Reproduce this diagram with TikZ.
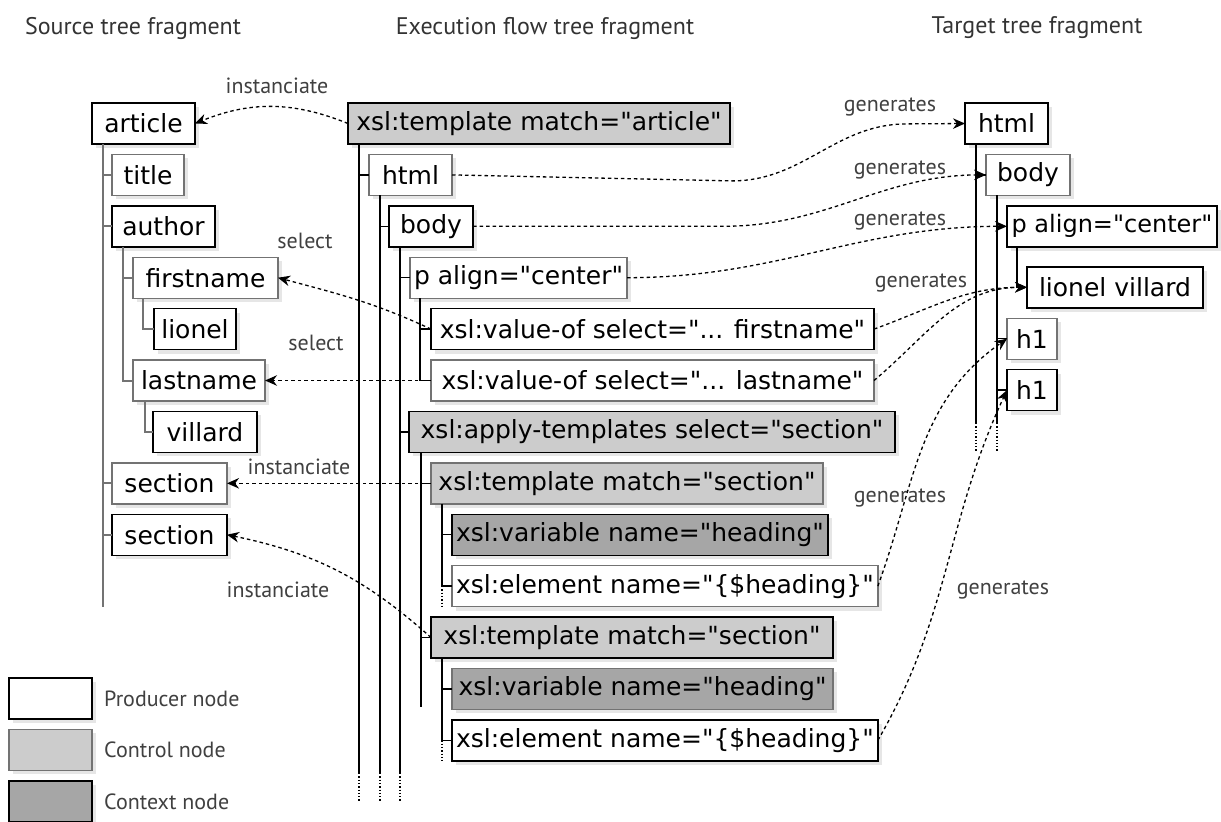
\documentclass[tikz,border=0pt]{standalone}
\usepackage{fontspec}
\setmainfont{DejaVu Sans}[Ligatures=TeXOff]
\newfontfamily\labelfont{PT Sans}
\usepackage{tikz}
\usetikzlibrary{arrows.meta}
\usetikzlibrary{positioning,shadows}
\tikzset{
    treenode/.style = {draw=black, line width=1.4pt, outer sep=0pt,
                 minimum height=41pt, inner xsep=4pt, font=\fontsize{25}{30}\selectfont,
                 drop shadow={opacity=0.2, shadow xshift=4pt, shadow yshift=-4pt}},
    prod/.style = {treenode, fill=white},
    ctrl/.style = {treenode, fill=gray!40},
    ctx/.style  = {treenode, fill=gray!70},
    soft/.style = {draw=black!55},
    branch/.style = {draw, line width=1.3pt},
    srcbranch/.style = {branch, draw=black!55, line width=2pt},
    link/.style = {->, line width=1.3pt, dash pattern=on 3.5pt off 3pt},
    lbl/.style = {font=\labelfont\fontsize{22}{26}\selectfont, text=black!75, inner sep=1pt},
    fragtitle/.style = {font=\labelfont\fontsize{24}{28}\selectfont, text=black!80},
}

\begin{document}
\begin{tikzpicture}[x=1pt,y=-1pt,>={Stealth[length=12pt,width=10.5pt]}]
\useasboundingbox (0,0) rectangle (1221,822);

% titles
\node (srctitle)  [fragtitle] at (133,28)  {Source tree fragment};
\node (flowtitle) [fragtitle] at (545,28)  {Execution flow tree fragment};
\node (tgttitle)  [fragtitle] at (1037,28) {Target tree fragment};

% source tree
\node (article)   [prod, minimum width=103pt, anchor=north west] at (92,103) {article};
\node (title)     [prod, soft, minimum width=72pt, below right=10.4pt and 20pt of article.south west] {title};
\node (author)    [prod, minimum width=103pt, below right=10.4pt and 0pt of title.south west] {author};
\node (firstname) [prod, soft, minimum width=145pt, below right=10.4pt and 21pt of author.south west] {firstname};
\node (lionel)    [prod, minimum width=82pt, below right=10.4pt and 21pt of firstname.south west] {lionel};
\node (lastname)  [prod, soft, minimum width=132pt, below right=10.4pt and -21pt of lionel.south west] {lastname};
\node (villard)   [prod, minimum width=104pt, below right=10.4pt and 20pt of lastname.south west] {villard};
\node (section1)  [prod, soft, minimum width=115pt, below right=10.4pt and -41pt of villard.south west] {section};
\node (section2)  [prod, minimum width=115pt, below right=10.4pt and 0pt of section1.south west] {section};

% execution flow tree
\node (tart)   [ctrl, minimum width=382pt, anchor=north west] at (348,103) {xsl:template match="article"};
\node (html)   [prod, soft, minimum width=83pt, below right=10.4pt and 21pt of tart.south west] {html};
\node (body)   [prod, minimum width=84pt, below right=10.4pt and 20pt of html.south west] {body};
\node (palign) [prod, soft, minimum width=217pt, below right=10.4pt and 21pt of body.south west] {p align="center"};
\node (vfirst) [prod, minimum width=443pt, below right=10.4pt and 21pt of palign.south west] {xsl:value-of select="... firstname"};
\node (vlast)  [prod, soft, minimum width=443pt, below right=10.4pt and 0pt of vfirst.south west] {xsl:value-of select="... lastname"};
\node (apply)  [ctrl, minimum width=486pt, below right=10.4pt and -22pt of vlast.south west] {xsl:apply-templates select="section"};
\node (tsec1)  [ctrl, soft, minimum width=392pt, below right=10.4pt and 22pt of apply.south west] {xsl:template match="section"};
\node (var1)   [ctx, minimum width=371pt, below right=10.4pt and 21pt of tsec1.south west] {xsl:variable name="heading"};
\node (elem1)  [prod, soft, minimum width=413pt, below right=10.4pt and 0pt of var1.south west] {xsl:element name="\{\$heading\}"};
\node (tsec2)  [ctrl, minimum width=402pt, below right=10.4pt and -21pt of elem1.south west] {xsl:template match="section"};
\node (var2)   [ctx, soft, minimum width=381pt, below right=10.4pt and 21pt of tsec2.south west] {xsl:variable name="heading"};
\node (elem2)  [prod, minimum width=413pt, below right=10.4pt and 0pt of var2.south west] {xsl:element name="\{\$heading\}"};

% target tree
\node (thtml)   [prod, minimum width=83pt, anchor=north west] at (965,103) {html};
\node (tbody)   [prod, soft, minimum width=84pt, below right=10.4pt and 21pt of thtml.south west] {body};
\node (tp)      [prod, minimum width=210pt, inner xsep=2pt, font=\fontsize{24}{29}\selectfont,
                 below right=10.4pt and 21pt of tbody.south west] {p align="center"};
\node (tlionel) [prod, minimum width=176pt, below right=20pt and 20pt of tp.south west] {lionel villard};
\node (th1a)    [prod, soft, minimum width=50pt, below right=10.4pt and -20pt of tlionel.south west] {h1};
\node (th1b)    [prod, minimum width=50pt, below right=10.4pt and 0pt of th1a.south west] {h1};

% legend
\node (lgprod) [prod, minimum width=83pt, anchor=north west] at (9,678) {};
\node (lgctrl) [ctrl, soft, minimum width=83pt, below right=10.4pt and 0pt of lgprod.south west] {};
\node (lgctx)  [ctx, minimum width=83pt, below right=10.4pt and 0pt of lgctrl.south west] {};
\node (lgprodtxt) [lbl, right=11pt of lgprod] {Producer node};
\node (lgctrltxt) [lbl, right=11pt of lgctrl] {Control node};
\node (lgctxtxt)  [lbl, right=11pt of lgctx]  {Context node};

% tree branches
\draw[srcbranch] ([xshift=11pt]article.south west) coordinate (article-stem) -- ++(0,463);
\foreach \c in {title,author,section1,section2}
  \draw[srcbranch] (article-stem) |- (\c.west);
\draw[srcbranch] ([xshift=11pt]author.south west) coordinate (author-stem) |- (lastname.west);
\draw[srcbranch] (author-stem) |- (firstname.west);
\draw[srcbranch] ([xshift=10pt]firstname.south west) |- (lionel.west);
\draw[srcbranch] ([xshift=12pt]lastname.south west) |- (villard.west);

\coordinate (flowend)  at (0,773);
\coordinate (flowtail) at (0,802);
\foreach \n in {tart,html,body}{
  \draw[branch] ([xshift=11pt]\n.south west) coordinate (\n-stem) -- (\n-stem |- flowend);
  \draw[branch, dotted] (\n-stem |- flowend) -- (\n-stem |- flowtail);
}
\draw[branch] (tart-stem) |- (html.west);
\draw[branch] (html-stem) |- (body.west);
\foreach \c in {palign,apply}
  \draw[branch] (body-stem) |- (\c.west);
\draw[branch] ([xshift=10pt]palign.south west) coordinate (palign-stem) |- (vlast.west);
\draw[branch] (palign-stem) |- (vfirst.west);
\draw[branch] ([xshift=12pt]apply.south west) coordinate (apply-stem) -- ++(0,255);
\foreach \c in {tsec1,tsec2}
  \draw[branch] (apply-stem) |- (\c.west);
\draw[branch] ([xshift=11pt]tsec1.south west) coordinate (tsec1-stem) |- (elem1.west);
\draw[branch] (tsec1-stem) |- (var1.west);
\draw[branch, dotted] (tsec1-stem |- elem1.west) -- ++(0,20);
\draw[branch] ([xshift=11pt]tsec2.south west) coordinate (tsec2-stem) |- (elem2.west);
\draw[branch] (tsec2-stem) |- (var2.west);
\draw[branch, dotted] (tsec2-stem |- elem2.west) -- ++(0,20);

\coordinate (tgtend)  at (0,423);
\coordinate (tgttail) at (0,452);
\foreach \n in {thtml,tbody}{
  \draw[branch] ([xshift=11pt]\n.south west) coordinate (\n-stem) -- (\n-stem |- tgtend);
  \draw[branch, dotted] (\n-stem |- tgtend) -- (\n-stem |- tgttail);
}
\draw[branch] (thtml-stem) |- (tbody.west);
\foreach \c in {tp,th1a,th1b}
  \draw[branch] (tbody-stem) |- (\c.west);
\draw[branch] ([xshift=10pt]tp.south west) |- (tlionel.west);

% instanciate / select
\draw[link] (tart.west) to[bend right=22] (article.east);
\draw[link] (vfirst.west) to[out=155,in=-15] (firstname.east);
\draw[link] (vlast.west) -- (lastname.east);
\draw[link] (tsec1.west) -- (section1.east);
\draw[link] (tsec2.west) to[bend right=15] (section2.east);

% generates
\draw[link] (html.east) -- ++(280,6) to[out=0,in=180] ++(175,-57) -- (thtml.west);
\draw[link] (body.east) -- ++(250,0) to[out=0,in=180] (tbody.west);
\draw[link] (palign.east) to[out=0,in=180] (tp.west);
\draw[link] (vfirst.east) to[out=20,in=180] (tlionel.west);
\draw[link] (vlast.east) to[out=40,in=180] (tlionel.west);
\draw[link] (elem1.east) to[out=70,in=215] (th1a.west);
\draw[link] (elem2.east) to[out=60,in=245] (th1b.west);

% connector labels
\node (instart)   [lbl] at (277,86)  {instanciate};
\node (selfirst)  [lbl] at (305,241) {select};
\node (sellast)   [lbl] at (316,343) {select};
\node (instsec1)  [lbl] at (299,467) {instanciate};
\node (instsec2)  [lbl] at (278,590) {instanciate};
\node (genhtml)   [lbl] at (890,107) {generates};
\node (genbody)   [lbl] at (900,170) {generates};
\node (genp)      [lbl] at (900,221) {generates};
\node (genlionel) [lbl] at (921,283) {generates};
\node (genh1a)    [lbl] at (900,498) {generates};
\node (genh1b)    [lbl] at (1003,590) {generates};
\end{tikzpicture}
\end{document}
